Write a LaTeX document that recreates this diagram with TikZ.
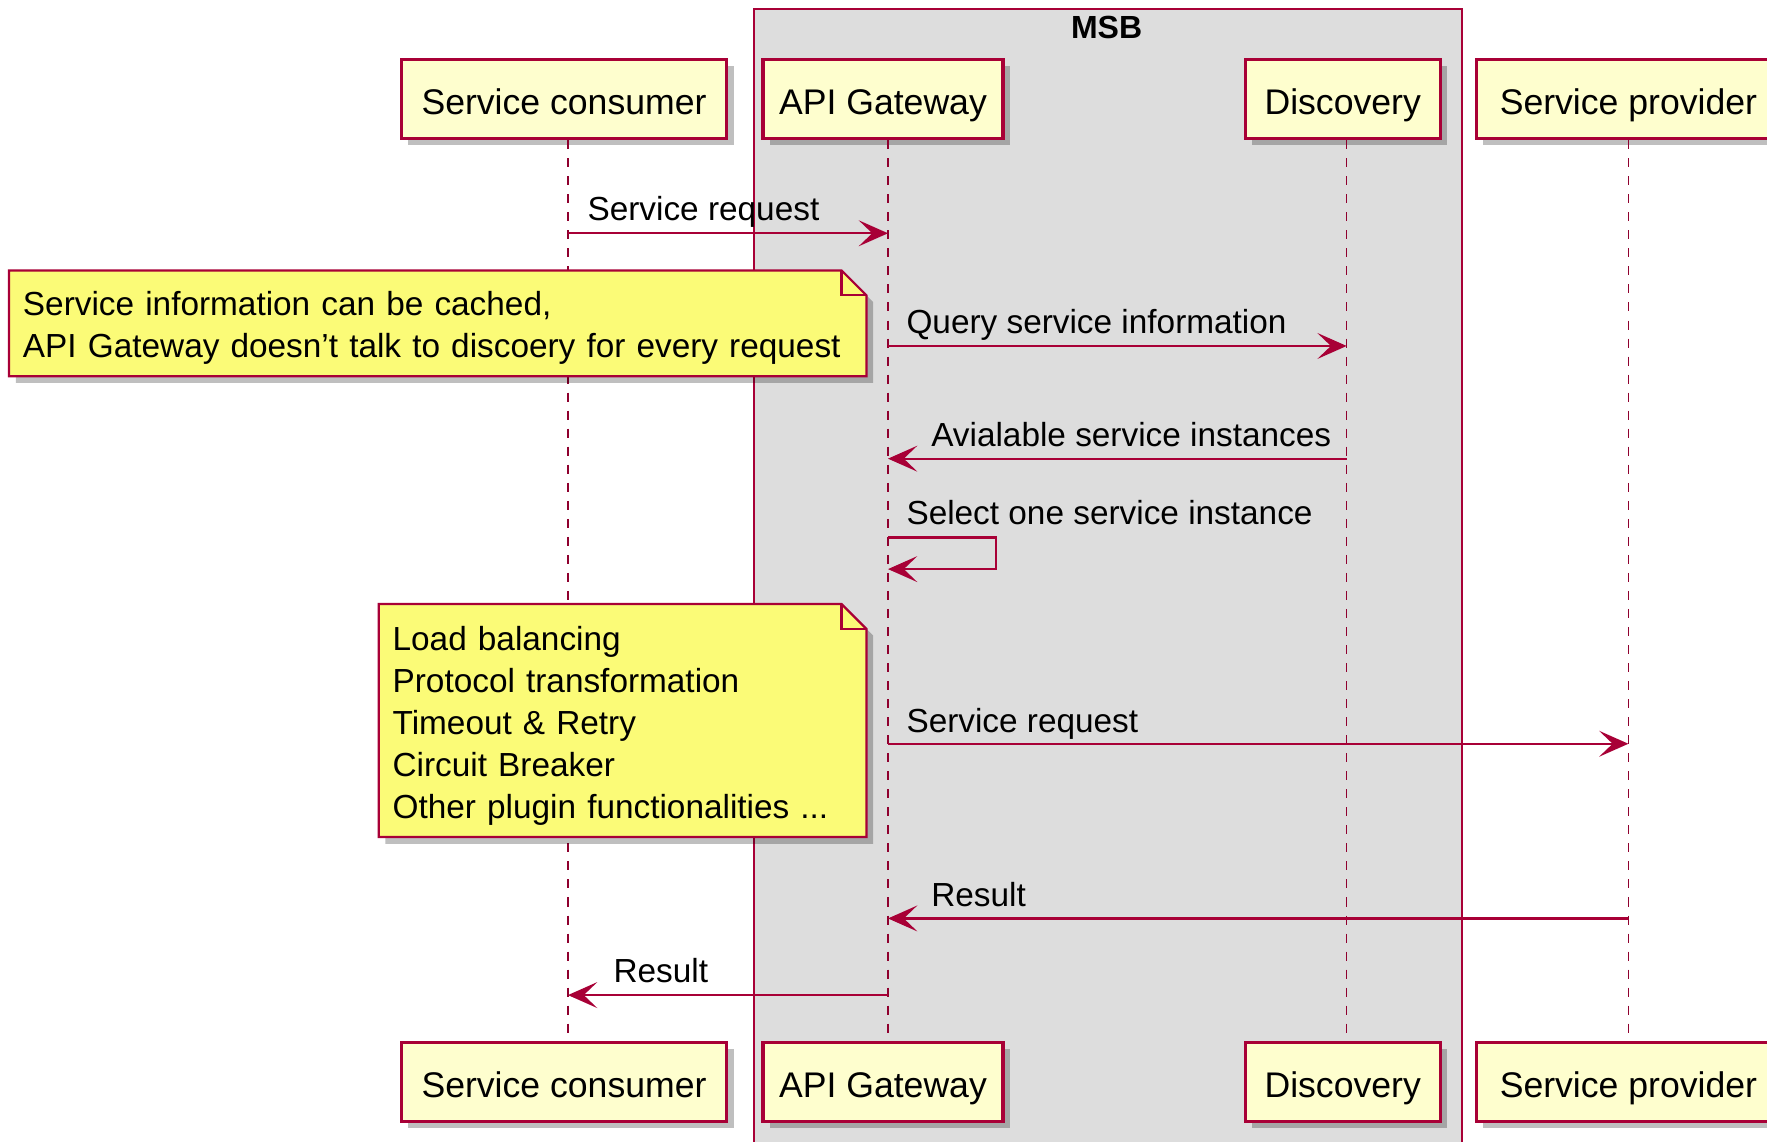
\documentclass[tikz,border=0pt]{standalone}
\usepackage{fontspec}
\setmainfont{Liberation Sans}
\usetikzlibrary{arrows.meta,shadows}
\definecolor{umlred}{HTML}{A80036}
\definecolor{partfill}{HTML}{FEFECE}
\definecolor{notefill}{HTML}{FBFB77}
\definecolor{boxgrey}{HTML}{DDDDDD}
\begin{document}
\begin{tikzpicture}[x=0.5pt,y=-0.5pt,
  shad/.style={drop shadow={shadow xshift=3pt, shadow yshift=-3pt, fill=black, opacity=0.25}},
  part/.style={draw=umlred, line width=1.4pt, fill=partfill, minimum height=35pt, inner sep=0pt,
    text height=13.5pt, text depth=0pt, font=\fontsize{15.8}{18}\selectfont, shad},
  life/.style={draw=umlred!85!black, line width=0.7pt, dash pattern=on 4pt off 4pt},
  msg/.style={draw=umlred, line width=1pt, -{Stealth[length=13pt,width=11.5pt,inset=6pt]}},
  lbl/.style={font=\fontsize{14.8}{18}\selectfont, inner sep=0pt, anchor=base west},
  notetxt/.style={inner xsep=6pt, inner ysep=0pt, align=left, anchor=north west,
    font=\fontsize{14.8}{18.6}\selectfont},
  notebox/.style={draw=umlred, line width=1pt, fill=notefill, shad},
  msbbox/.style={draw=umlred, line width=1pt, fill=boxgrey, inner sep=0pt, anchor=north west}
]
\useasboundingbox (0,0) rectangle (1568,1013);
% MSB group box
\node[msbbox, minimum width=314pt, minimum height=520pt] (msbg) at (668,7) {};
\node[font=\bfseries\fontsize{14.2}{17}\selectfont, inner sep=0pt] (msb) at (982,24) {MSB};

% participants top
\node[part, minimum width=144.5pt] (sc) at (500.5,88) {Service consumer};
\node[part, minimum width=106.5pt] (gw) at (783.5,88) {API Gateway};
\node[part, minimum width=86.5pt] (ds) at (1191.5,88) {Discovery};
\node[part, minimum width=135pt] (sp) at (1445,88) {Service provider};
% participants bottom
\node[part, minimum width=144.5pt] (scb) at (500.5,960) {Service consumer};
\node[part, minimum width=106.5pt] (gwb) at (783.5,960) {API Gateway};
\node[part, minimum width=86.5pt] (dsb) at (1191.5,960) {Discovery};
\node[part, minimum width=135pt] (spb) at (1445,960) {Service provider};

% lifelines
\draw[life] ([xshift=1.75pt]sc.south) -- ([xshift=1.75pt]scb.north);
\draw[life] ([xshift=2.25pt]gw.south) -- ([xshift=2.25pt]gwb.north);
\draw[life] ([xshift=1.75pt]ds.south) -- ([xshift=1.75pt]dsb.north);
\draw[life] (sp.south) -- (spb.north);

% lifeline coordinates
\coordinate (c1) at (504,207);   \coordinate (g1) at (788,207);
\coordinate (g2) at (788,307);   \coordinate (d2) at (1195,307);
\coordinate (d3) at (1195,407);  \coordinate (g3) at (788,407);
\coordinate (g4) at (788,477);   \coordinate (s4a) at (884,477);
\coordinate (s4b) at (884,505);  \coordinate (g4b) at (788,505);
\coordinate (g5) at (788,660);   \coordinate (p5) at (1445,660);
\coordinate (p6) at (1445,815);  \coordinate (g6) at (788,815);
\coordinate (g7) at (788,883);   \coordinate (c7) at (504,883);

% messages
\draw[msg] (c1) -- (g1);
\node[lbl] (l1) at (521,196) {Service request};

\draw[msg] (g2) -- (d2);
\node[lbl] (l2) at (804,296) {Query service information};

\draw[msg] (d3) -- (g3);
\node[lbl] (l3) at (826,396) {Avialable service instances};

\draw[msg] (g4) -- (s4a) -- (s4b) -- (g4b);
\node[lbl] (l4) at (804,465) {Select one service instance};

\draw[msg] (g5) -- (p5);
\node[lbl] (l5) at (804,650) {Service request};

\draw[msg] (p6) -- (g6);
\node[lbl] (l6) at (826,804) {Result};

\draw[msg] (g7) -- (c7);
\node[lbl] (l7) at (544,872) {Result};

% note 1
\node[notetxt, text width=368pt, minimum height=46.5pt] (n1) at (8,240) {};
\path[notebox] (n1.north west) -- ([xshift=-11pt]n1.north east) -- ([yshift=-11pt]n1.north east)
  -- (n1.south east) -- (n1.south west) -- cycle;
\draw[umlred, line width=1pt] ([xshift=-11pt]n1.north east) -- ([xshift=-11pt,yshift=-11pt]n1.north east)
  -- ([yshift=-11pt]n1.north east);
\node[notetxt, text width=368pt, minimum height=46.5pt, yshift=-2.2pt] (n1t) at (8,240)
  {Service information can be cached,\\API Gateway doesn't talk to discoery for every request};

% note 2
\node[notetxt, text width=204pt, minimum height=103pt] (n2) at (336,536) {};
\path[notebox] (n2.north west) -- ([xshift=-11pt]n2.north east) -- ([yshift=-11pt]n2.north east)
  -- (n2.south east) -- (n2.south west) -- cycle;
\draw[umlred, line width=1pt] ([xshift=-11pt]n2.north east) -- ([xshift=-11pt,yshift=-11pt]n2.north east)
  -- ([yshift=-11pt]n2.north east);
\node[notetxt, text width=204pt, minimum height=103pt, yshift=-2.5pt] (n2t) at (336,536)
  {Load balancing\\Protocol transformation\\Timeout \& Retry\\Circuit Breaker\\Other plugin functionalities ...};
\end{tikzpicture}
\end{document}
